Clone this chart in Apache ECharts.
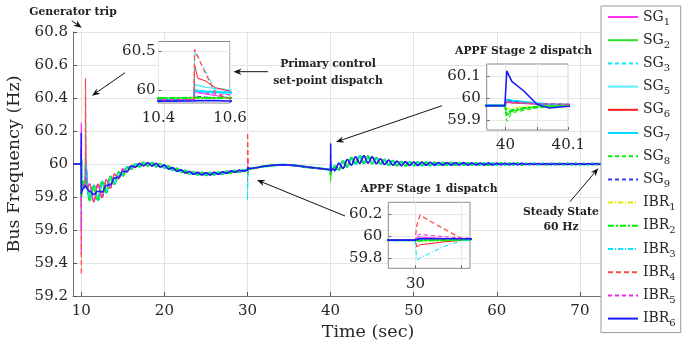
<!DOCTYPE html>
<html><head><meta charset="utf-8">
<script src="https://cdn.jsdelivr.net/npm/echarts@6/dist/echarts.min.js"></script>
<style>html,body{margin:0;padding:0;background:#fff}#c{width:697px;height:346px}</style>
</head><body><div id="c"></div>
<script>
// ---------------- DATA ----------------
const seriesNames = ['SG1','SG2','SG3','SG5','SG6','SG7','SG8','SG9','IBR1','IBR2','IBR3','IBR4','IBR5','IBR6'];
// oscillation phase group of each series (A / B antiphase, S = smoother A)
const phaseGroup = ['A','B','B','B','A','B','B','S','B','B','B','A','A','S'];

const xTickValues = [10,20,30,40,50,60,70,80];
const yTickStep = 0.2;

// Event at t = 10 s (generator trip + primary set-point dispatch at 10.5 s)
const ev10T = [9, 9.995, 10, 10.003, 10.01, 10.2, 10.499, 10.501, 10.51, 10.53, 10.56, 10.6];
const ev10V = [
  [60, 60, 60.25, 59.45, 59.85, 59.87, 59.89, 59.98, 59.97, 59.95, 59.93, 59.9],      // SG1
  [60, 60, 60.05, 59.8, 59.86, 59.89, 59.9, 59.9, 59.9, 59.9, 59.9, 59.9],            // SG2
  [60, 60, 60.04, 59.8, 59.86, 59.88, 59.885, 59.99, 59.985, 59.975, 59.97, 59.965],  // SG3
  [60, 60, 60.05, 59.8, 59.86, 59.88, 59.885, 60.07, 60.06, 60.04, 60.02, 60.0],      // SG5
  [60, 60, 60.08, 59.75, 59.85, 59.87, 59.88, 60.32, 60.15, 60.12, 60.03, 59.985],    // SG6
  [60, 60, 60.03, 59.82, 59.86, 59.88, 59.89, 60.0, 59.99, 59.98, 59.975, 59.97],     // SG7
  [60, 60, 60.02, 59.82, 59.87, 59.89, 59.9, 59.9, 59.9, 59.9, 59.9, 59.9],           // SG8
  [60, 60, 60.1, 59.8, 59.85, 59.86, 59.87, 59.93, 59.92, 59.91, 59.9, 59.9],         // SG9
  [60, 60, 60.0, 59.85, 59.87, 59.885, 59.895, 59.9, 59.9, 59.9, 59.9, 59.9],         // IBR1
  [60, 60, 60.02, 59.8, 59.87, 59.89, 59.9, 59.905, 59.905, 59.9, 59.9, 59.9],        // IBR2
  [60, 60, 59.6, 59.8, 59.86, 59.875, 59.88, 60.48, 60.41, 60.25, 59.99, 59.93],      // IBR3
  [60, 60, 59.33, 59.7, 59.86, 59.87, 59.88, 60.52, 60.43, 60.23, 59.95, 59.89],      // IBR4
  [60, 60, 60.15, 59.6, 59.85, 59.87, 59.88, 59.97, 59.965, 59.96, 59.95, 59.94],     // IBR5
  [60, 60, 60.19, 59.82, 59.83, 59.85, 59.862, 59.87, 59.865, 59.865, 59.865, 59.86]  // IBR6
];

// Oscillating recovery 10.75 .. 29.9 s
const seg1T = [10.75, 11, 11.5, 12, 12.5, 13, 13.5, 14, 14.5, 15, 15.5, 16, 16.5, 17, 17.5, 18, 18.5, 19, 19.5, 20,
  20.5, 21, 21.5, 22, 22.5, 23, 23.5, 24, 24.5, 25, 25.5, 26, 26.5, 27, 27.5, 28, 28.5, 29, 29.5, 29.9];
const seg1A = [59.85, 59.88, 59.77, 59.88, 59.795, 59.905, 59.853, 59.94, 59.91, 59.97, 59.951, 59.99, 59.979, 60.005, 59.988, 60.01, 59.988, 60.005, 59.98, 59.993,
  59.97, 59.978, 59.956, 59.965, 59.946, 59.955, 59.938, 59.949, 59.934, 59.947, 59.934, 59.949, 59.938, 59.952, 59.943, 59.958, 59.95, 59.962, 59.956, 59.962];
const seg1B = [59.85, 59.78, 59.87, 59.78, 59.895, 59.825, 59.923, 59.88, 59.95, 59.93, 59.981, 59.97, 59.999, 59.985, 60.008, 59.99, 60.008, 59.985, 60.0, 59.977,
  59.986, 59.962, 59.972, 59.951, 59.96, 59.941, 59.952, 59.935, 59.948, 59.933, 59.948, 59.935, 59.95, 59.94, 59.955, 59.946, 59.96, 59.952, 59.964, 59.962];
const seg1S = [59.845, 59.835, 59.815, 59.835, 59.83, 59.87, 59.875, 59.915, 59.92, 59.955, 59.955, 59.988, 59.981, 60.003, 59.99, 60.008, 59.99, 60.003, 59.982, 59.993,
  59.97, 59.978, 59.956, 59.965, 59.946, 59.955, 59.938, 59.949, 59.934, 59.947, 59.934, 59.949, 59.938, 59.952, 59.943, 59.958, 59.95, 59.962, 59.956, 59.962];

// APPF stage 1 dispatch at t = 30 s
const ev30T = [29.999, 30, 30.003, 30.01, 30.03, 30.06, 30.1, 30.15];
const ev30V = [
  [59.962, 59.97, 59.99, 59.99, 59.985, 59.98, 59.975, 59.972],    // SG1
  [59.962, 59.955, 59.955, 59.958, 59.96, 59.962, 59.965, 59.97],  // SG2
  [59.962, 59.965, 59.975, 59.97, 59.97, 59.97, 59.97, 59.972],    // SG3
  [59.962, 59.965, 59.98, 59.975, 59.972, 59.97, 59.97, 59.972],   // SG5
  [59.962, 59.95, 59.9, 59.92, 59.93, 59.945, 59.96, 59.97],       // SG6
  [59.962, 59.965, 59.975, 59.972, 59.97, 59.97, 59.97, 59.972],   // SG7
  [59.962, 59.955, 59.952, 59.956, 59.96, 59.962, 59.965, 59.97],  // SG8
  [59.962, 59.965, 59.98, 59.978, 59.976, 59.975, 59.974, 59.972], // SG9
  [59.962, 59.96, 59.96, 59.962, 59.965, 59.967, 59.97, 59.972],   // IBR1
  [59.962, 59.955, 59.955, 59.958, 59.96, 59.962, 59.965, 59.97],  // IBR2
  [59.962, 59.96, 59.78, 59.8, 59.84, 59.9, 59.955, 59.965],       // IBR3
  [59.962, 59.97, 60.1, 60.19, 60.14, 60.07, 59.98, 59.975],       // IBR4
  [59.962, 59.97, 60.0, 60.015, 60.005, 59.995, 59.98, 59.975],    // IBR5
  [59.962, 59.965, 59.975, 59.975, 59.975, 59.975, 59.975, 59.972] // IBR6
];

// Smooth segment 30.3 .. 39.9 s
const seg2T = [30.3, 31, 32, 33, 34, 35, 36, 37, 38, 39, 39.9];
const seg2V = [59.972, 59.977, 59.986, 59.992, 59.995, 59.994, 59.989, 59.983, 59.977, 59.971, 59.966];

// APPF stage 2 dispatch at t = 40 s
const ev40T = [39.999, 40, 40.002, 40.01, 40.03, 40.05, 40.07, 40.1, 40.15];
const ev40V = [
  [59.966, 59.97, 59.99, 59.985, 59.98, 59.975, 59.972, 59.97, 59.968],    // SG1
  [59.966, 59.96, 59.92, 59.94, 59.952, 59.96, 59.963, 59.966, 59.967],    // SG2
  [59.966, 59.97, 59.99, 59.988, 59.982, 59.976, 59.972, 59.97, 59.968],   // SG3
  [59.966, 59.97, 59.995, 59.99, 59.983, 59.976, 59.972, 59.97, 59.968],   // SG5
  [59.966, 59.97, 59.98, 59.978, 59.975, 59.972, 59.97, 59.969, 59.968],   // SG6
  [59.966, 59.97, 59.992, 59.988, 59.982, 59.976, 59.972, 59.97, 59.968],  // SG7
  [59.966, 59.96, 59.895, 59.933, 59.945, 59.955, 59.96, 59.965, 59.967],  // SG8
  [59.966, 59.97, 59.99, 59.985, 59.978, 59.973, 59.97, 59.968, 59.967],   // SG9
  [59.966, 59.966, 59.95, 59.955, 59.96, 59.963, 59.965, 59.966, 59.967],  // IBR1
  [59.966, 59.96, 59.93, 59.945, 59.955, 59.96, 59.963, 59.966, 59.967],   // IBR2
  [59.966, 59.97, 59.985, 59.982, 59.978, 59.974, 59.971, 59.969, 59.968], // IBR3
  [59.966, 59.97, 59.985, 59.98, 59.978, 59.975, 59.974, 59.972, 59.97],   // IBR4
  [59.966, 59.97, 59.982, 59.979, 59.977, 59.975, 59.974, 59.972, 59.97],  // IBR5
  [59.966, 59.97, 60.124, 60.076, 60.03, 59.972, 59.955, 59.963, 59.967]   // IBR6
];

// Oscillating settling 40.3 .. 80 s
const seg3T = [40.3, 40.5,
  41, 41.5, 42, 42.5, 43, 43.5, 44, 44.5, 45, 45.5, 46, 46.5, 47, 47.5, 48, 48.5, 49, 49.5,
  50, 50.5, 51, 51.5, 52, 52.5, 53, 53.5, 54, 54.5, 55, 55.5, 56, 56.5, 57, 57.5, 58, 58.5, 59, 59.5,
  60, 60.5, 61, 61.5, 62, 62.5, 63, 63.5, 64, 64.5, 65, 65.5, 66, 66.5, 67, 67.5, 68, 68.5, 69, 69.5,
  70, 70.5, 71, 71.5, 72, 72.5, 80];
const seg3A = [59.97, 59.96,
  60.005, 59.973, 60.027, 59.993, 60.044, 60.004, 60.049, 60.006, 60.043, 60.002, 60.032, 59.997, 60.024, 59.992, 60.017, 59.99, 60.014, 59.991,
  60.012, 59.991, 60.011, 59.992, 60.01, 59.993, 60.009, 59.993, 60.008, 59.994, 60.008, 59.995, 60.007, 59.994, 60.006, 59.995, 60.005, 59.995, 60.005, 59.995,
  60.004, 59.996, 60.004, 59.996, 60.004, 59.996, 60.004, 59.997, 60.003, 59.997, 60.003, 59.997, 60.003, 59.997, 60.003, 59.997, 60.003, 59.997, 60.003, 59.997,
  60.003, 59.997, 60.003, 59.997, 60.003, 59.997, 60.0];
const seg3B = [59.97, 59.99,
  59.965, 60.017, 59.983, 60.037, 60.0, 60.048, 60.005, 60.046, 60.003, 60.038, 60.0, 60.027, 59.994, 60.02, 59.991, 60.014, 59.99, 60.013,
  59.992, 60.011, 59.991, 60.01, 59.992, 60.009, 59.993, 60.009, 59.994, 60.008, 59.994, 60.007, 59.995, 60.006, 59.994, 60.005, 59.995, 60.005, 59.995, 60.005,
  59.996, 60.004, 59.996, 60.004, 59.996, 60.004, 59.996, 60.003, 59.997, 60.003, 59.997, 60.003, 59.997, 60.003, 59.997, 60.003, 59.997, 60.003, 59.997, 60.003,
  59.997, 60.003, 59.997, 60.003, 59.997, 60.003, 60.0];

// ---------------- STYLE ----------------
const lineColors = ['#ff30ff','#2ee02e','#00e6ff','#5cefff','#ff1a1a','#00dcff','#10ee10','#3a3aff','#e6e600','#00ee00','#00e6ff','#ff4d4d','#ee22ee','#1a1aff'];
const lineTypes  = ['solid','solid',[4,3],'solid','solid','solid',[4,3],[4,3],[5,2,1,2],[6,2,2,2],[5,2,1,2],[5,3],[4,3],'solid'];
const lineWidths = [1, 1.3, 1, 1.6, 1, 2.2, 1.2, 1.3, 1, 2.2, 1, 1.3, 1, 1.6];

const FONT = 'DejaVu Serif';
const annotTexts = [
  {t:'Generator trip', x:73, y:12},
  {t:'Primary control', x:328, y:64},
  {t:'set-point dispatch', x:328, y:81.5},
  {t:'APPF Stage 2 dispatch', x:523.5, y:51.5},
  {t:'APPF Stage 1 dispatch', x:429, y:189},
  {t:'Steady State', x:561, y:212.3},
  {t:'60 Hz', x:561, y:227.5}
];
const annotArrows = [
  [71.7, 20.7, 81.7, 27.7],
  [125, 72.7, 92, 95.7],
  [268, 71.7, 233.5, 71.7],
  [442, 105.7, 336, 142],
  [345, 216, 257, 180],
  [570, 201.7, 598.3, 168.3]
];

// ---------------- BUILD ----------------
function buildData(i) {
  const g = phaseGroup[i];
  const s1 = g === 'A' ? seg1A : (g === 'B' ? seg1B : seg1S);
  const s3 = g === 'B' ? seg3B : seg3A;
  const pts = [];
  ev10T.forEach((t, k) => pts.push([t, ev10V[i][k]]));
  seg1T.forEach((t, k) => pts.push([t, s1[k]]));
  ev30T.forEach((t, k) => pts.push([t, ev30V[i][k]]));
  seg2T.forEach((t, k) => pts.push([t, seg2V[k]]));
  ev40T.forEach((t, k) => pts.push([t, ev40V[i][k]]));
  seg3T.forEach((t, k) => pts.push([t, s3[k]]));
  return pts;
}
const allData = seriesNames.map((n, i) => buildData(i));

const labelStyle = {fontFamily: FONT, fontSize: 15, color: '#262626'};
const grids = [
  {left: 73, top: 32, width: 590, height: 264, outerBoundsMode: 'none'},
  {left: 158.5, top: 41.5, width: 71.5, height: 61.5, show: true, backgroundColor: '#fff', borderColor: '#8a8a8a', borderWidth: 1, z: 3, outerBoundsMode: 'none'},
  {left: 486.7, top: 64, width: 81.6, height: 66, show: true, backgroundColor: '#fff', borderColor: '#8a8a8a', borderWidth: 1, z: 3, outerBoundsMode: 'none'},
  {left: 388.3, top: 202.3, width: 81.7, height: 66, show: true, backgroundColor: '#fff', borderColor: '#8a8a8a', borderWidth: 1, z: 3, outerBoundsMode: 'none'}
];
function insetX(idx, min, max, ticks, labels) {
  return {gridIndex: idx, type: 'value', min, max, z: 4,
    axisLine: {show: false},
    axisTick: {show: true, inside: true, length: 3, customValues: ticks, lineStyle: {color: '#666'}},
    axisLabel: Object.assign({customValues: labels, margin: 8, showMinLabel: true, showMaxLabel: true}, labelStyle),
    splitLine: {show: true, lineStyle: {color: '#e8e8e8', width: 1}}};
}
function insetY(idx, min, max, ticks, margin) {
  return {gridIndex: idx, type: 'value', min, max, z: 4,
    axisLine: {show: false},
    axisTick: {show: true, inside: true, length: 3, customValues: ticks, lineStyle: {color: '#666'}},
    axisLabel: Object.assign({customValues: ticks, margin: margin}, labelStyle),
    splitLine: {show: true, lineStyle: {color: '#e8e8e8', width: 1}}};
}
const xAxes = [
  {gridIndex: 0, type: 'value', min: 9, max: 80,
    name: 'Time (sec)', nameLocation: 'middle', nameGap: 27,
    nameTextStyle: {fontFamily: FONT, fontSize: 17.5, color: '#262626'},
    axisLine: {show: true, lineStyle: {color: '#6e6e6e', width: 1}},
    axisTick: {show: true, inside: true, length: 4, customValues: xTickValues, lineStyle: {color: '#555'}},
    axisLabel: Object.assign({customValues: xTickValues, margin: 8}, labelStyle),
    splitLine: {show: true, lineStyle: {color: '#e4e4e4', width: 1}}},
  insetX(1, 10.4, 10.6, [10.4, 10.6], [10.4, 10.6]),
  insetX(2, 39.97, 40.1, [40, 40.05, 40.1], [40, 40.1]),
  insetX(3, 29.94, 30.12, [30, 30.1], [30])
];
const yAxes = [
  {gridIndex: 0, type: 'value', min: 59.2, max: 60.8, interval: yTickStep,
    name: 'Bus Frequency (Hz)', nameLocation: 'middle', nameGap: 42,
    nameTextStyle: {fontFamily: FONT, fontSize: 17.5, color: '#262626'},
    axisLine: {show: true, lineStyle: {color: '#6e6e6e', width: 1}},
    axisTick: {show: true, inside: true, length: 4, lineStyle: {color: '#555'}},
    axisLabel: Object.assign({margin: 5, formatter: v => String(Math.round(v * 10) / 10)}, labelStyle),
    splitLine: {show: true, lineStyle: {color: '#e4e4e4', width: 1}}},
  insetY(1, 59.835, 60.62, [60, 60.5], 3),
  insetY(2, 59.855, 60.155, [59.9, 60, 60.1], 6),
  insetY(3, 59.706, 60.306, [59.8, 60, 60.2], 6)
];

const series = [];
for (let gi = 0; gi < 4; gi++) {
  seriesNames.forEach((n, i) => {
    series.push({
      name: n, type: 'line', data: allData[i], xAxisIndex: gi, yAxisIndex: gi,
      symbol: 'none', showSymbol: false, clip: true, z: gi === 0 ? 2 : 5,
      smooth: gi === 0 ? 0.35 : false, smoothMonotone: 'x',
      lineStyle: {color: lineColors[i], type: lineTypes[i], width: lineWidths[i]},
      itemStyle: {color: lineColors[i]},
      emphasis: {disabled: true}, animation: false
    });
  });
}

const graphics = [];
annotTexts.forEach(a => graphics.push({type: 'text', z: 20, style: {
  text: a.t, x: a.x, y: a.y, align: 'center', verticalAlign: 'middle',
  fontFamily: FONT, fontSize: 10.8, fontWeight: 'bold', fill: '#222'}}));
annotArrows.forEach(([x1, y1, x2, y2]) => {
  const ang = Math.atan2(y2 - y1, x2 - x1), c = Math.cos(ang), s = Math.sin(ang);
  const L = 8, W = 3.2, N = 5.5;
  graphics.push({type: 'line', z: 20, shape: {x1, y1, x2: x2 - c * N, y2: y2 - s * N}, style: {stroke: '#111', lineWidth: 1}});
  graphics.push({type: 'polygon', z: 20, shape: {points: [
    [x2, y2], [x2 - L * c + W * s, y2 - L * s - W * c], [x2 - N * c, y2 - N * s], [x2 - L * c - W * s, y2 - L * s + W * c]]},
    style: {fill: '#111'}});
});

const chart = echarts.init(document.getElementById('c'), null, {renderer: 'canvas'});
chart.setOption({
  animation: false,
  backgroundColor: '#fff',
  grid: grids, xAxis: xAxes, yAxis: yAxes, series,
  legend: {
    orient: 'vertical', left: 601, top: 6, z: 10,
    data: seriesNames, selectedMode: false,
    itemWidth: 30, itemHeight: 12, itemGap: 6.2,
    padding: [4, 5, 4, 6],
    itemStyle: {opacity: 0, borderWidth: 0},
    backgroundColor: '#fff', borderColor: '#9a9a9a', borderWidth: 1, borderRadius: 0,
    formatter: name => { const m = name.match(/^([A-Z]+)(\d+)$/); return '{a|' + m[1] + '}{s|' + m[2] + '}'; },
    textStyle: {fontFamily: FONT, color: '#262626', rich: {
      a: {fontFamily: FONT, fontSize: 14, lineHeight: 20, color: '#262626', verticalAlign: 'middle'},
      s: {fontFamily: FONT, fontSize: 10, lineHeight: 10, color: '#262626', verticalAlign: 'bottom'}
    }}
  },
  graphic: graphics
});
</script>
</body></html>
